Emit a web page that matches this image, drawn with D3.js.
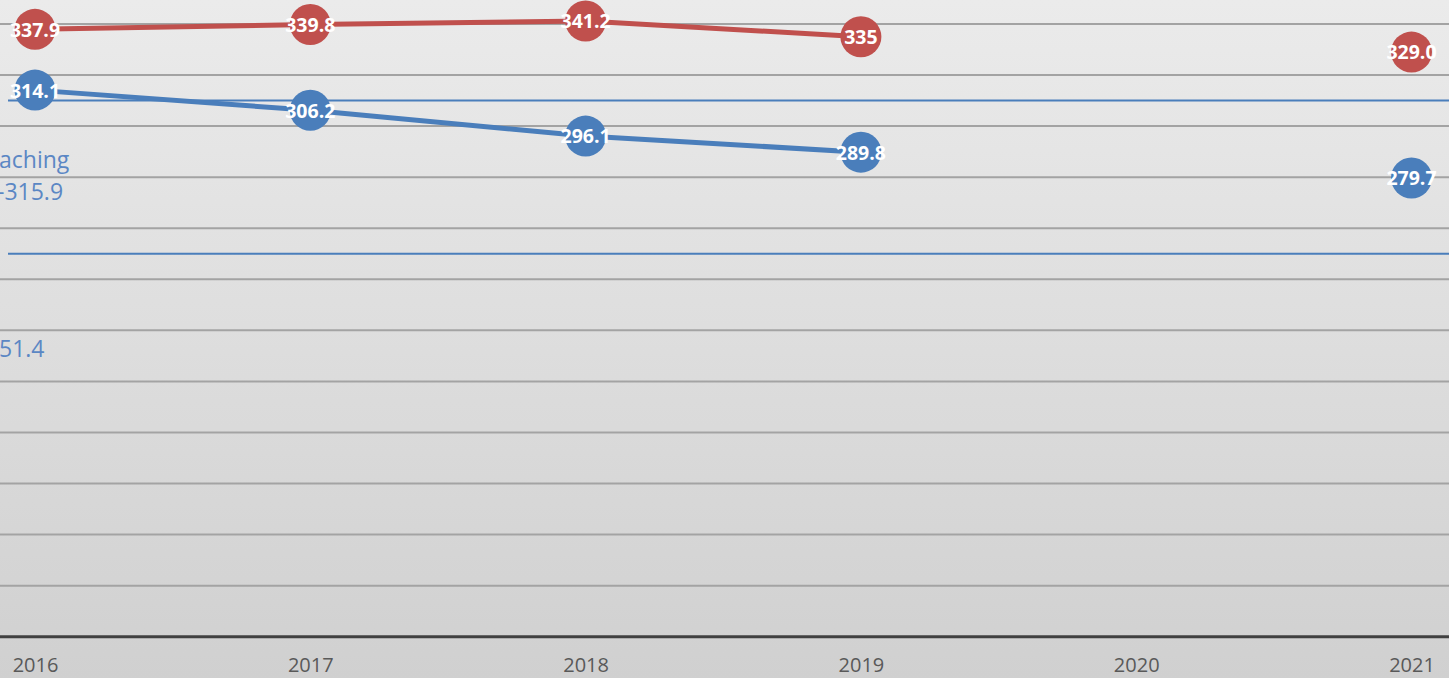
<!DOCTYPE html>
<html>
<head>
<meta charset="utf-8">
<script src="https://cdn.jsdelivr.net/npm/d3@7"></script>
<style>
  html, body { margin: 0; padding: 0; overflow: hidden; }
  svg { display: block; font-family: "Open Sans", sans-serif; }
</style>
</head>
<body>
<div id="chart"></div>
<script>
var svgWidth = 1449;
var svgHeight = 678;

// Data
var years = ["2016", "2017", "2018", "2019", "2020", "2021"];
var redValues = [337.9, 339.8, 341.2, 335, null, 329.0];
var redLabels = ["337.9", "339.8", "341.2", "335", "", "329.0"];
var blueValues = [314.1, 306.2, 296.1, 289.8, null, 279.7];
var blueLabels = ["314.1", "306.2", "296.1", "289.8", "", "279.7"];
var gridValues = [120, 140, 160, 180, 200, 220, 240, 260, 280, 300, 320, 340, 360];
var refValues = [310, 250];
// cut-off annotation texts at the left edge
var sideTexts = ["aching", "-315.9", "51.4"];
var sideValues = [283.6, 271.1, 209.6];

var svg = d3.select("#chart")
    .append("svg")
    .attr("width", svgWidth)
    .attr("height", svgHeight);

// background gradient
var defs = svg.append("defs");
var grad = defs.append("linearGradient")
    .attr("id", "bg")
    .attr("x1", 0).attr("y1", 0).attr("x2", 0).attr("y2", 1);
grad.append("stop").attr("offset", "0%").attr("stop-color", "#ebebeb");
grad.append("stop").attr("offset", "100%").attr("stop-color", "#d0d0d0");

svg.append("rect")
    .attr("width", svgWidth)
    .attr("height", svgHeight)
    .attr("fill", "url(#bg)");

// Scales
var xScale = d3.scalePoint()
    .domain(years)
    .range([35, 1411.5]);

var yScale = d3.scaleLinear()
    .domain([100, 340])
    .range([636.7, 24]);

// gridlines
svg.append("g").selectAll("line")
    .data(gridValues)
    .enter()
    .append("line")
    .attr("x1", 0)
    .attr("x2", svgWidth)
    .attr("y1", d => yScale(d))
    .attr("y2", d => yScale(d))
    .attr("stroke", "#a3a3a3")
    .attr("stroke-width", 2);

// reference lines
svg.append("g").selectAll("line")
    .data(refValues)
    .enter()
    .append("line")
    .attr("x1", 8)
    .attr("x2", svgWidth)
    .attr("y1", d => yScale(d))
    .attr("y2", d => yScale(d))
    .attr("stroke", "#4a7ebb")
    .attr("stroke-width", 2);

// x axis
var bottomAxis = d3.axisBottom(xScale).tickSize(0).tickPadding(21);
var axisG = svg.append("g")
    .attr("transform", `translate(0, ${yScale(100)})`)
    .call(bottomAxis);
axisG.select(".domain").remove();
axisG.selectAll("text")
    .attr("font-family", "Open Sans, sans-serif")
    .attr("font-size", "20px")
    .attr("fill", "#595959");

svg.append("line")
    .attr("x1", 0)
    .attr("x2", svgWidth)
    .attr("y1", yScale(100))
    .attr("y2", yScale(100))
    .attr("stroke", "#404040")
    .attr("stroke-width", 3);

// side annotation texts (cut by the left edge)
svg.append("g").selectAll("text")
    .data(sideTexts)
    .enter()
    .append("text")
    .attr("x", (d, i) => i == 1 ? -3 : -1)
    .attr("y", (d, i) => yScale(sideValues[i]))
    .attr("font-size", "23px")
    .attr("fill", "#5b87c4")
    .text(d => d);

// series
function drawSeries(values, labels, color) {
    var pts = years.map((y, i) => ({ year: y, value: values[i], label: labels[i] }));

    var line = d3.line()
        .defined(d => d.value != null)
        .x(d => xScale(d.year))
        .y(d => yScale(d.value));

    svg.append("path")
        .datum(pts)
        .attr("d", line)
        .attr("fill", "none")
        .attr("stroke", color)
        .attr("stroke-width", 5);

    var valid = pts.filter(d => d.value != null);

    svg.append("g").selectAll("circle")
        .data(valid)
        .enter()
        .append("circle")
        .attr("cx", d => xScale(d.year))
        .attr("cy", d => yScale(d.value))
        .attr("r", 20.5)
        .attr("fill", color);

    svg.append("g").selectAll("text")
        .data(valid)
        .enter()
        .append("text")
        .attr("x", d => xScale(d.year))
        .attr("y", d => yScale(d.value))
        .attr("dy", "0.38em")
        .attr("text-anchor", "middle")
        .attr("font-size", "19.5px")
        .attr("font-weight", "bold")
        .attr("fill", "#ffffff")
        .text(d => d.label);
}

drawSeries(blueValues, blueLabels, "#4a7ebb");
drawSeries(redValues, redLabels, "#c0504d");
</script>
</body>
</html>
